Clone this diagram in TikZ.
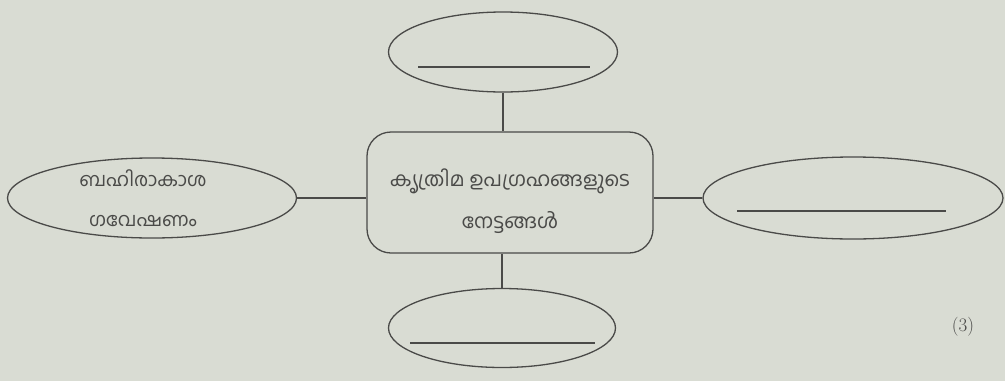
\documentclass[tikz,border=0pt]{standalone}
\usepackage{fontspec}
\newfontfamily\mlfont[Script=Malayalam]{Hind Kochi}
\usetikzlibrary{shapes.geometric,calc}
\definecolor{PaperGray}{HTML}{D9DCD3}
\definecolor{InkGray}{HTML}{4A4A48}
\tikzset{
  mmoval/.style={draw=InkGray, ellipse, line width=1.3pt, inner sep=0pt},
  mmbox/.style={draw=InkGray, rounded corners=24pt, line width=1.3pt, inner sep=0pt},
  mmtext/.style={align=center, font=\mlfont\fontsize{20}{38}\selectfont, text=InkGray},
  mmlink/.style={draw=InkGray, line width=1.3pt},
  mmblank/.style={draw=InkGray, line width=1.1pt}
}

\begin{document}
\begin{tikzpicture}[x=1pt,y=-1pt]
  \fill[PaperGray] (0,0) rectangle (1005,381);
  % centre and the four ovals
  \node[mmbox, minimum width=286pt, minimum height=121pt] (gains) at (510,192.5) {};
  \node[mmtext] (gainstext) at ($(gains.center)+(0,9)$) {കൃത്രിമ ഉപഗ്രഹങ്ങളുടെ\\[4pt]നേട്ടങ്ങൾ};
  \node[mmoval, minimum width=289pt, minimum height=80pt] (space) at (152,198) {};
  \node[mmtext, font=\mlfont\fontsize{19}{38}\selectfont] (spacetext) at ($(space.center)+(-9,0)$) {ബഹിരാകാശ\\[2pt]ഗവേഷണം};
  \node[mmoval, minimum width=229pt, minimum height=80pt] (topoval) at (503,52) {};
  \node[mmoval, minimum width=227pt, minimum height=79pt] (botoval) at (502,328) {};
  \node[mmoval, minimum width=300pt, minimum height=82pt] (rightoval) at (853,198) {};
  % links
  \draw[mmlink] (space.east) -- (space.east -| gains.west);
  \draw[mmlink] (topoval.south) -- (topoval.south |- gains.north);
  \draw[mmlink] (botoval.north) -- (botoval.north |- gains.south);
  \draw[mmlink] (rightoval.west) -- (rightoval.west -| gains.east);
  % answer lines
  \draw[mmblank] ($(topoval.center)+(-85,15)$) -- ($(topoval.center)+(87,15)$);
  \draw[mmblank] ($(botoval.center)+(-92,15)$) -- ($(botoval.center)+(93,15)$);
  \draw[mmblank] ($(rightoval.center)+(-116,13)$) -- ($(rightoval.center)+(93,13)$);
  \node[font=\fontsize{19}{22}\selectfont, text=InkGray] (marks) at (963,327) {(3)};
\end{tikzpicture}
\end{document}
